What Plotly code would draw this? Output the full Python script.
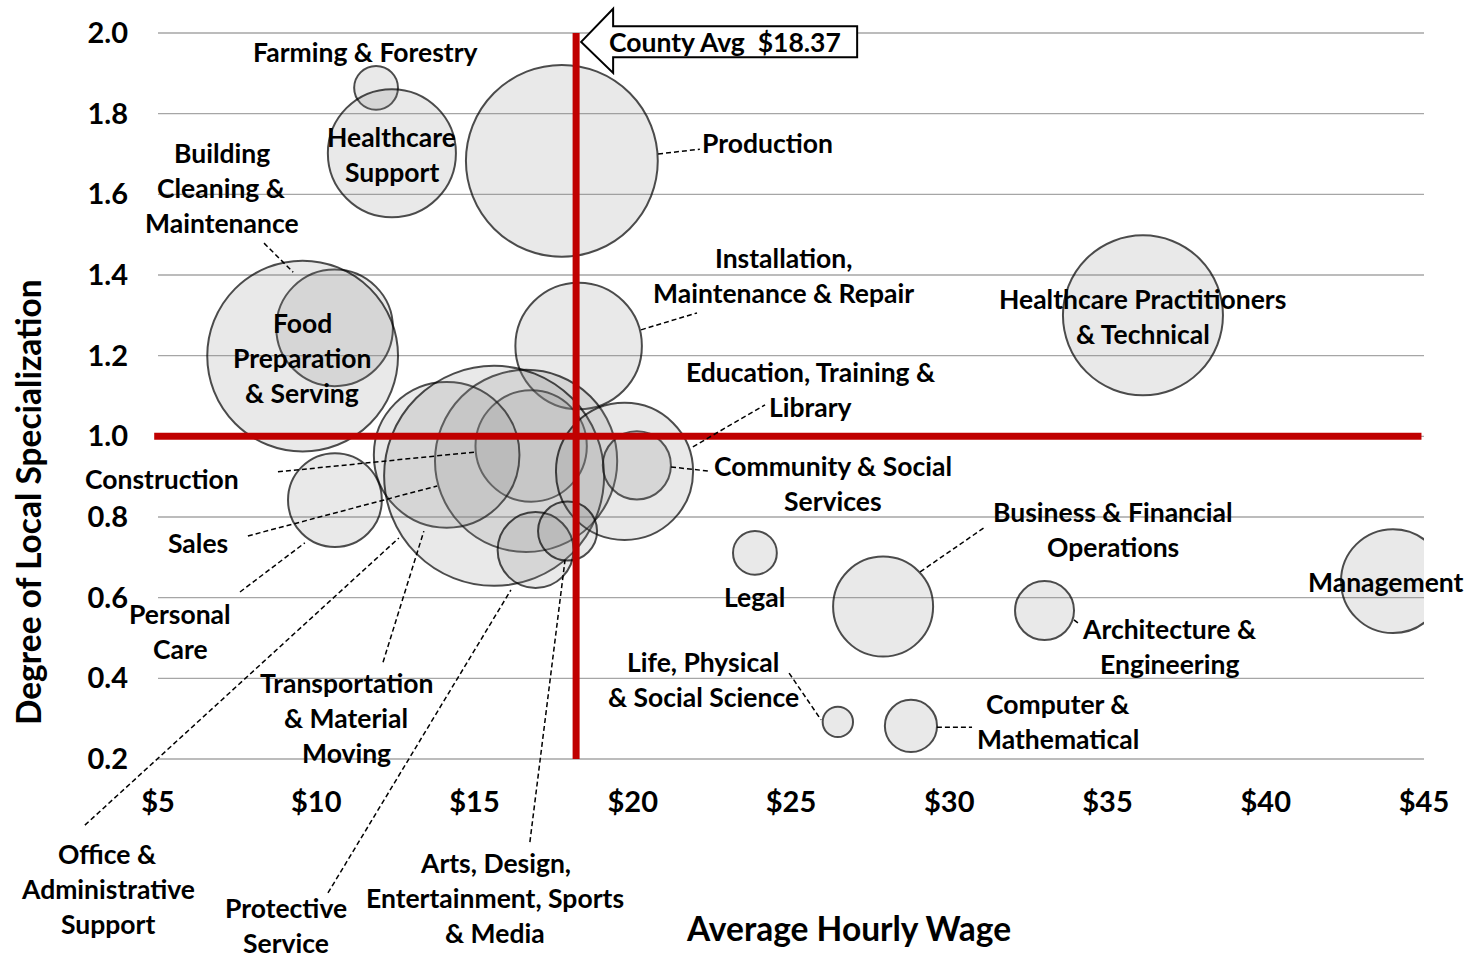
import plotly.graph_objects as go

# ---------------- data ----------------
occupations = [
    "Farming & Forestry", "Healthcare Support", "Production",
    "Building Cleaning & Maintenance", "Food Preparation & Serving",
    "Installation, Maintenance & Repair", "Personal Care", "Construction",
    "Sales", "Transportation & Material Moving", "Office & Administrative Support",
    "Community & Social Services", "Education, Training & Library",
    "Protective Service", "Arts, Design, Entertainment, Sports & Media", "Legal",
    "Business & Financial Operations", "Life, Physical & Social Science",
    "Computer & Mathematical", "Healthcare Practitioners & Technical",
    "Architecture & Engineering", "Management",
]
avg_hourly_wage = [11.89, 12.39, 17.76, 10.58, 9.57, 18.29, 10.59, 16.79, 16.63, 14.12, 15.62,
                   20.13, 19.74, 16.93, 17.94, 23.86, 27.91, 26.48, 28.79, 36.12, 33.01, 44.02]
local_specialization = [1.864, 1.702, 1.683, 1.269, 1.199, 1.224, 0.842, 0.976, 0.939, 0.954, 0.902,
                        0.928, 0.913, 0.718, 0.765, 0.711, 0.578, 0.292, 0.282, 1.300, 0.568, 0.641]
employment = [480, 4100, 9200, 3400, 9100, 4000, 2200, 3100, 8300, 5300, 12100,
              1160, 4700, 1440, 870, 480, 2500, 230, 680, 6400, 870, 2700]

x_tick_values = [5, 10, 15, 20, 25, 30, 35, 40, 45]
x_tick_labels = ["$5", "$10", "$15", "$20", "$25", "$30", "$35", "$40", "$45"]
y_tick_values = [0.2, 0.4, 0.6, 0.8, 1.0, 1.2, 1.4, 1.6, 1.8, 2.0]
y_tick_labels = ["0.2", "0.4", "0.6", "0.8", "1.0", "1.2", "1.4", "1.6", "1.8", "2.0"]

county_avg_label = "$18.37"
county_avg_line = 18.21      # where the red reference line is drawn
specialization_ref = 1.0

X_RANGE = [5, 45]
Y_RANGE = [0.2, 2.0]

# label text lines and their anchor (wage, specialization)
labels = [
    (["Farming & Forestry"], 11.57, 1.953),
    (["Healthcare", "Support"], 12.39, 1.698),
    (["Production"], 24.27, 1.727),
    (["Building", "Cleaning &", "Maintenance"], 7.02, 1.616),
    (["Food", "Preparation", "& Serving"], 9.55, 1.194),
    (["Installation,", "Maintenance & Repair"], 24.75, 1.400),
    (["Healthcare Practitioners", "& Technical"], 36.12, 1.296),
    (["Education, Training &", "Library"], 25.63, 1.115),
    (["Community & Social", "Services"], 26.33, 0.884),
    (["Construction"], 5.13, 0.894),
    (["Sales"], 6.26, 0.736),
    (["Personal", "Care"], 5.70, 0.515),
    (["Transportation", "& Material", "Moving"], 10.94, 0.302),
    (["Office &", "Administrative", "Support"], 3.42, -0.122),
    (["Protective", "Service"], 9.04, -0.213),
    (["Arts, Design,", "Entertainment, Sports", "& Media"], 15.65, -0.145),
    (["Legal"], 23.86, 0.602),
    (["Business & Financial", "Operations"], 35.17, 0.770),
    (["Management"], 43.80, 0.639),
    (["Architecture &", "Engineering"], 36.97, 0.480),
    (["Life, Physical", "& Social Science"], 22.22, 0.398),
    (["Computer &", "Mathematical"], 33.44, 0.294),
]

# dashed leader lines (wage, specialization) -> (wage, specialization)
leaders = [
    ((20.80, 1.700), (22.12, 1.712)),
    ((8.35, 1.479), (9.27, 1.407)),
    ((20.26, 1.264), (22.03, 1.306)),
    ((21.90, 0.974), (24.18, 1.078)),
    ((21.21, 0.924), (22.38, 0.914)),
    ((8.79, 0.912), (15.02, 0.961)),
    ((7.84, 0.753), (13.82, 0.877)),
    ((7.59, 0.614), (9.64, 0.736)),
    ((12.11, 0.440), (13.40, 0.765)),
    ((2.69, 0.036), (12.61, 0.748)),
    ((10.37, -0.132), (16.15, 0.619)),
    ((16.75, -0.006), (17.86, 0.693)),
    ((29.08, 0.664), (31.13, 0.775)),
    ((33.94, 0.545), (34.07, 0.537)),
    ((24.94, 0.413), (25.95, 0.297)),
    ((29.61, 0.279), (30.72, 0.279)),
]

# ---------------- helpers ----------------
def xp(w):
    return (w - X_RANGE[0]) / (X_RANGE[1] - X_RANGE[0])


def yp(v):
    return (v - Y_RANGE[0]) / (Y_RANGE[1] - Y_RANGE[0])


FONT = "Lato"
LABEL_SIZE = 26.5
TITLE_SIZE = 33.5
TICK_SIZE = 29
LINE_PX = 35

fig = go.Figure()
fig.add_trace(go.Scatter(
    x=avg_hourly_wage, y=local_specialization, mode="markers",
    text=occupations, hoverinfo="text",
    marker=dict(size=employment, sizemode="area", sizeref=0.5,
                color="rgba(135,135,135,0.26)",
                line=dict(color="black", width=2)),
    showlegend=False, cliponaxis=True,
))

shapes = []
# horizontal gridlines at every y tick (including the range edges)
for v in y_tick_values:
    shapes.append(dict(type="line", xref="paper", yref="paper", x0=0, x1=1,
                       y0=yp(v), y1=yp(v), line=dict(color="#a6a6a6", width=1.3),
                       layer="below"))
# red reference lines
shapes.append(dict(type="line", xref="x", yref="paper", x0=county_avg_line, x1=county_avg_line,
                   y0=0, y1=1, line=dict(color="#c00000", width=7), layer="above"))
shapes.append(dict(type="line", xref="paper", yref="y", x0=-0.003, x1=0.998,
                   y0=specialization_ref, y1=specialization_ref,
                   line=dict(color="#c00000", width=7), layer="above"))
# leader lines
for (w0, l0), (w1, l1) in leaders:
    shapes.append(dict(type="line", xref="paper", yref="paper",
                       x0=xp(w0), y0=yp(l0), x1=xp(w1), y1=yp(l1),
                       line=dict(color="black", width=1.5, dash="5px,3px"), layer="above"))

# County average arrow callout (left-pointing block arrow)
tip_w, head_w, right_w = 18.37, 19.38, 27.09
tip_l, head_top, head_bot, box_top, box_bot = 1.978, 2.060, 1.901, 2.017, 1.940
pts = [(tip_w, tip_l), (head_w, head_top), (head_w, box_top), (right_w, box_top),
       (right_w, box_bot), (head_w, box_bot), (head_w, head_bot)]
path = "M " + " L ".join(f"{xp(a):.5f},{yp(b):.5f}" for a, b in pts) + " Z"
shapes.append(dict(type="path", xref="paper", yref="paper", path=path,
                   fillcolor="white", line=dict(color="black", width=2), layer="above"))

annotations = []
for lines, w, l in labels:
    n = len(lines)
    for i, t in enumerate(lines):
        annotations.append(dict(
            text=t, x=xp(w), y=yp(l), xref="paper", yref="paper",
            showarrow=False, xanchor="center", yanchor="middle",
            yshift=((n - 1) / 2 - i) * LINE_PX,
            font=dict(family=FONT, size=LABEL_SIZE, color="black", weight="bold"),
        ))

annotations.append(dict(
    text="County Avg\u00a0 " + county_avg_label, x=xp(22.91), y=yp(1.978),
    xref="paper", yref="paper", showarrow=False, xanchor="center", yanchor="middle",
    font=dict(family=FONT, size=LABEL_SIZE, color="black", weight="bold")))

annotations.append(dict(
    text="Average Hourly Wage", x=xp(26.83), y=yp(-0.219),
    xref="paper", yref="paper", showarrow=False, xanchor="center", yanchor="middle",
    font=dict(family=FONT, size=TITLE_SIZE, color="black", weight="bold")))
annotations.append(dict(
    text="Degree of Local Specialization", x=-130 / 1266, y=yp(0.837),
    xref="paper", yref="paper", showarrow=False, xanchor="center", yanchor="middle",
    textangle=-90,
    font=dict(family=FONT, size=TITLE_SIZE, color="black", weight="bold")))

fig.update_layout(
    width=1472, height=961,
    margin=dict(l=158, r=48, t=33, b=202),
    paper_bgcolor="white", plot_bgcolor="white",
    shapes=shapes, annotations=annotations,
    xaxis=dict(range=X_RANGE, tickvals=x_tick_values, ticktext=x_tick_labels,
               showgrid=False, zeroline=False, showline=False, ticks="",
               ticklabelstandoff=23,
               tickfont=dict(family=FONT, size=TICK_SIZE, color="black", weight="bold")),
    yaxis=dict(range=Y_RANGE, tickvals=y_tick_values, ticktext=y_tick_labels,
               showgrid=False, zeroline=False, showline=False, ticks="",
               ticklabelstandoff=29,
               tickfont=dict(family=FONT, size=TICK_SIZE, color="black", weight="bold")),
    font=dict(family=FONT),
)

# remove the default 8px page margin so the 1472x961 figure fills the window exactly
fig.write_html(
    "out.html",
    config={"displayModeBar": False},
    post_script="document.body.style.margin='0';document.body.style.overflow='hidden';",
)
